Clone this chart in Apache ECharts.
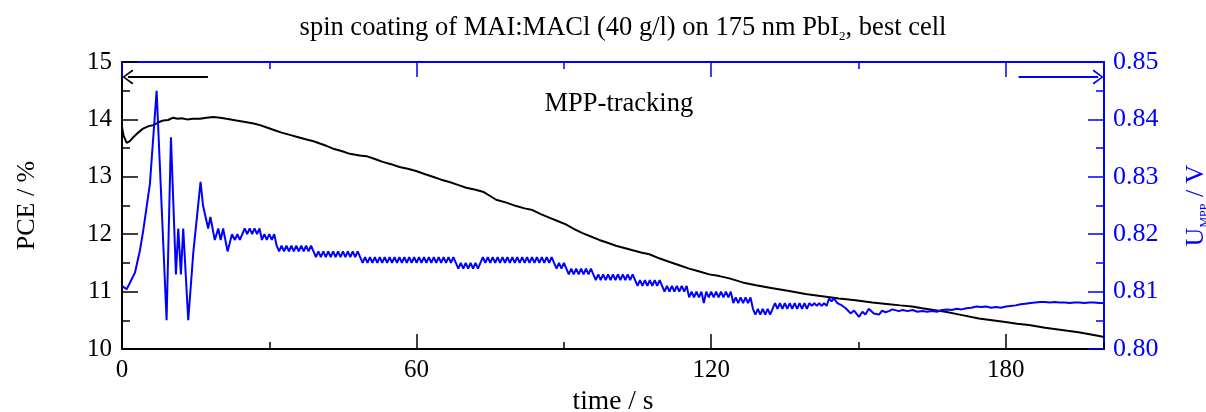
<!DOCTYPE html>
<html>
<head>
<meta charset="utf-8">
<script src="https://cdn.jsdelivr.net/npm/echarts@6/dist/echarts.min.js"></script>
<style>
html,body{margin:0;padding:0;background:#fff;}
#chart{width:1206px;height:412px;}
</style>
</head>
<body>
<div id="chart"></div>
<script>
// ---- data (time / s , value) ----
const pceSeries = [
[0,13.87],[0.3,13.72],[0.95,13.59],[1.6,13.62],[2.3,13.69],[3.3,13.77],[4.3,13.84],[5.3,13.88],[6.4,13.9],[7.4,13.95],
[8.4,13.98],[9.4,13.99],[10.4,14.03],[11.3,14.01],[12.2,14.02],[13.2,14.0],[14.5,14.01],[15.9,14.01],[17.2,14.03],[18.6,14.04],
[20.0,14.03],[21.3,14.01],[23.3,13.98],[25.4,13.95],[26.8,13.93],[28.1,13.9],[29.5,13.86],[30.8,13.82],[32.5,13.77],[34.2,13.73],
[35.9,13.69],[37.6,13.65],[39.0,13.62],[40.3,13.58],[41.6,13.54],[43.0,13.49],[44.7,13.45],[46.4,13.4],[48.4,13.37],[49.8,13.36],
[51.5,13.31],[53.1,13.26],[54.8,13.22],[56.5,13.17],[58.2,13.14],[59.9,13.1],[61.6,13.05],[63.3,13.0],[65.0,12.95],[66.7,12.91],
[68.4,12.86],[70.1,12.81],[71.8,12.78],[73.5,12.74],[74.9,12.67],[76.2,12.6],[78.3,12.55],[80.3,12.49],[82.0,12.45],[83.6,12.42],
[85.3,12.35],[87.0,12.29],[88.7,12.23],[90.4,12.17],[92.1,12.09],[93.8,12.02],[95.5,11.96],[97.2,11.9],[98.9,11.85],[100.6,11.8],
[102.3,11.76],[104.0,11.72],[105.7,11.68],[107.4,11.65],[109.4,11.58],[111.4,11.52],[113.5,11.46],[115.5,11.4],[117.6,11.35],[119.6,11.3],
[121.7,11.27],[123.7,11.23],[126.4,11.16],[129.1,11.11],[132.5,11.06],[135.9,11.01],[139.2,10.96],[142.6,10.92],[146.0,10.88],[149.4,10.85],
[152.8,10.81],[156.2,10.78],[158.5,10.76],[160.9,10.74],[163.0,10.71],[165.3,10.68],[167.7,10.65],[171.1,10.59],[174.5,10.53],[177.2,10.5],
[179.9,10.47],[182.3,10.44],[184.7,10.42],[188.0,10.37],[191.4,10.33],[194.8,10.29],[198.2,10.24],[200.0,10.21]
];

const umppSeries = [
[0,0.811],[0.95,0.8104],[2.64,0.8133],[3.66,0.8172],[4.34,0.8207],[5.69,0.8288],[7.05,0.845],[9.08,0.805],[9.97,0.8369],[10.98,0.813],
[11.46,0.821],[12.0,0.813],[12.47,0.821],[13.49,0.805],[14.5,0.8166],[16.0,0.8291],[16.5,0.825],[17.55,0.821],[18.0,0.823],[18.9,0.819],
[19.6,0.821],[20.1,0.819],[20.6,0.821],[21.5,0.817],[22.4,0.820],[23.0,0.819],[23.5,0.820],[24.0,0.819],[24.5,0.820],
[25,0.821],[25.5,0.820],[26,0.821],[26.5,0.820],[27,0.821],[27.5,0.820],[28,0.821],
[28.5,0.819],[29,0.820],[29.5,0.819],[30,0.820],[30.5,0.819],[31,0.820],[31.5,0.818],
[32,0.817],[32.5,0.818],[33,0.817],[33.5,0.818],[34,0.817],[34.5,0.818],[35,0.817],[35.5,0.818],[36,0.817],[36.5,0.818],
[37,0.817],[37.5,0.818],[38,0.817],[38.5,0.818],[39,0.817],
[39.5,0.816],[40,0.817],[40.5,0.816],[41,0.817],[41.5,0.816],[42,0.817],[42.5,0.816],[43,0.817],[43.5,0.816],[44,0.817],
[44.5,0.816],[45,0.817],[45.5,0.816],[46,0.817],[46.5,0.816],[47,0.817],[47.5,0.816],[48,0.817],
[48.5,0.816],[49,0.815],[49.5,0.816],[50,0.815],[50.5,0.816],[51,0.815],[51.5,0.816],[52,0.815],[52.5,0.816],[53,0.815],
[53.5,0.816],[54,0.815],[54.5,0.816],[55,0.815],[55.5,0.816],[56,0.815],[56.5,0.816],[57,0.815],[57.5,0.816],[58,0.815],
[58.5,0.816],[59,0.815],[59.5,0.816],[60,0.815],[60.5,0.816],[61,0.815],[61.5,0.816],[62,0.815],[62.5,0.816],[63,0.815],
[63.5,0.816],[64,0.815],[64.5,0.816],[65,0.815],[65.5,0.816],[66,0.815],[66.5,0.816],[67,0.815],[67.5,0.816],[68,0.815],
[68.5,0.814],[69,0.815],[69.5,0.814],[70,0.815],[70.5,0.814],[71,0.815],[71.5,0.814],[72,0.815],[72.5,0.814],[73,0.815],
[73.5,0.816],[74,0.815],[74.5,0.816],[75,0.815],[75.5,0.816],[76,0.815],[76.5,0.816],[77,0.815],[77.5,0.816],[78,0.815],
[78.5,0.816],[79,0.815],[79.5,0.816],[80,0.815],[80.5,0.816],[81,0.815],[81.5,0.816],[82,0.815],[82.5,0.816],[83,0.815],
[83.5,0.816],[84,0.815],[84.5,0.816],[85,0.815],[85.5,0.816],[86,0.815],[86.5,0.816],[87,0.815],[87.5,0.816],
[88,0.815],[88.5,0.814],[89,0.815],[89.5,0.814],[90,0.815],[90.5,0.814],
[91,0.813],[91.5,0.814],[92,0.813],[92.5,0.814],[93,0.813],[93.5,0.814],[94,0.813],[94.5,0.814],[95,0.813],[95.5,0.814],
[96,0.813],[96.5,0.812],[97,0.813],[97.5,0.812],[98,0.813],[98.5,0.812],[99,0.813],[99.5,0.812],[100,0.813],[100.5,0.812],
[101,0.813],[101.5,0.812],[102,0.813],[102.5,0.812],[103,0.813],[103.5,0.812],[104,0.813],[104.5,0.812],
[105,0.811],[105.5,0.812],[106,0.811],[106.5,0.812],[107,0.811],[107.5,0.812],[108,0.811],[108.5,0.812],[109,0.811],[109.5,0.812],[110,0.811],
[110.5,0.810],[111,0.811],[111.5,0.810],[112,0.811],[112.5,0.810],[113,0.811],[113.5,0.810],[114,0.811],[114.5,0.810],[115,0.811],
[115.5,0.809],[116,0.810],[116.5,0.809],[117,0.810],[117.5,0.809],[118,0.810],[118.5,0.808],[119,0.810],
[119.5,0.809],[120,0.810],[120.5,0.809],[121,0.810],[121.5,0.809],[122,0.810],[122.5,0.809],[123,0.810],[123.5,0.809],[124,0.810],
[124.5,0.808],[125,0.809],[125.5,0.808],[126,0.809],[126.5,0.808],[127,0.809],[127.5,0.808],[128,0.809],
[128.5,0.807],[129,0.806],[129.5,0.807],[130,0.806],[130.5,0.807],[131,0.806],[131.5,0.807],[132,0.806],
[132.5,0.807],[133,0.808],[133.5,0.807],[134,0.808],[134.5,0.807],[135,0.808],[135.5,0.807],[136,0.808],[136.5,0.807],[137,0.808],
[137.5,0.807],[138,0.808],[138.5,0.807],[139,0.808],[139.5,0.807],
[140,0.808],[140.5,0.8075],[141,0.808],[141.5,0.8075],[142,0.808],[142.5,0.8075],[143,0.808],[143.5,0.8075],
[144,0.8088],[144.5,0.8083],[145,0.8088],[145.7,0.808],[146.4,0.8077],[147.4,0.8071],[148.4,0.8062],[149.1,0.8067],[150.1,0.8056],[150.8,0.8065],
[151.4,0.806],[152.1,0.807],[153.1,0.8062],[154.2,0.806],[154.8,0.8067],[155.5,0.8064],[156.2,0.8066],[156.9,0.8069],[158.2,0.8066],
[159,0.8068],[160,0.8066],[161,0.8068],[162,0.8065],[163,0.8066],[164,0.8065],[165,0.8066],[166,0.8065],[167,0.8068],[168,0.8069],
[169,0.8068],[170,0.807],[171,0.8069],[172,0.8071],[173,0.8072],[174,0.8074],[175,0.8073],[176,0.8074],[177,0.8072],[178,0.8073],
[179,0.8072],[180,0.8074],[181,0.8075],[182,0.8076],[183,0.8078],[184,0.8079],[185,0.808],[186,0.8081],[187,0.8082],[188,0.8082],
[189,0.8081],[190,0.8082],[191,0.8081],[192,0.8081],[193,0.808],[194,0.8081],[195,0.8081],[196,0.808],[197,0.8081],[198,0.8081],
[199,0.808],[200,0.808]
];

const xTickMajor = 60, xTickMinor = 30;
const pceRange = [10, 15];
const uRange = [0.80, 0.85];
const timeRange = [0, 200];
const annotation = { text: 'MPP-tracking', at: [101.2, 14.27] };
const leftArrow = [[17.5, 14.74], [1.2, 14.74]];
const rightArrow = [[182.6, 0.8474], [198.8, 0.8474]];

const FONT = '"Liberation Serif", "Times New Roman", serif';
const BLUE = '#0000ff';
const BLACK = '#000000';
const chevron = 'path://M5,0 L10,9 L9,10 L5,2.2 L1,10 L0,9 Z';

const chart = echarts.init(document.getElementById('chart'), null, {renderer: 'canvas'});

function xAx(pos, interval, len, color, showLabel, showLine, extra) {
  return Object.assign({
    type: 'value', position: pos, min: timeRange[0], max: timeRange[1], interval: interval,
    axisLine: {show: showLine, onZero: false, lineStyle: {color: color, width: 2}},
    axisTick: {show: true, inside: true, length: len, lineStyle: {color: color, width: 1.5}},
    axisLabel: {show: showLabel, color: BLACK, fontFamily: FONT, fontSize: 25, margin: 9, showMaxLabel: false},
    splitLine: {show: false}
  }, extra || {});
}

chart.setOption({
  animation: false,
  backgroundColor: '#fff',
  title: {
    text: '{a|spin coating of MAI:MACl (40 g/l) on 175 nm PbI}{s|2}{a|, best cell}',
    left: 618, top: 8, textAlign: 'center',
    textStyle: {
      rich: {
        a: {fontFamily: FONT, fontSize: 26.5, fontWeight: 'normal', color: BLACK, lineHeight: 30},
        s: {fontFamily: FONT, fontSize: 13, fontWeight: 'normal', color: BLACK, lineHeight: 10, verticalAlign: 'bottom'}
      }
    }
  },
  grid: {left: 122, right: 102, top: 62, bottom: 63, containLabel: false, outerBoundsMode: 'none'},
  xAxis: [
    xAx('bottom', xTickMajor, 15, BLACK, true, true, {
      name: 'time / s', nameLocation: 'middle', nameGap: 38,
      nameTextStyle: {fontFamily: FONT, fontSize: 27.5, color: BLACK}
    }),
    xAx('bottom', xTickMinor, 7, BLACK, false, false),
    xAx('top', xTickMajor, 15, BLUE, false, true),
    xAx('top', xTickMinor, 7, BLUE, false, false)
  ],
  yAxis: [
    {
      type: 'value', position: 'left', min: pceRange[0], max: pceRange[1], interval: 1,
      axisLine: {show: true, onZero: false, lineStyle: {color: BLACK, width: 2}},
      axisTick: {show: true, inside: true, length: 16, lineStyle: {color: BLACK, width: 1.5}},
      minorTick: {show: true, splitNumber: 2, length: 8, lineStyle: {color: BLACK, width: 1.5}},
      axisLabel: {color: BLACK, fontFamily: FONT, fontSize: 25, margin: 10},
      splitLine: {show: false},
      name: 'PCE / %', nameLocation: 'middle', nameRotate: 90, nameGap: 82,
      nameTextStyle: {fontFamily: FONT, fontSize: 26, color: BLACK}
    },
    {
      type: 'value', position: 'right', min: uRange[0], max: uRange[1], interval: 0.01,
      axisLine: {show: true, onZero: false, lineStyle: {color: BLUE, width: 2}},
      axisTick: {show: true, inside: true, length: 16, lineStyle: {color: BLUE, width: 1.5}},
      minorTick: {show: true, splitNumber: 2, length: 8, lineStyle: {color: BLUE, width: 1.5}},
      axisLabel: {color: BLUE, fontFamily: FONT, fontSize: 26, margin: 9, formatter: v => v.toFixed(2)},
      splitLine: {show: false},
      name: '{u|U}{s|MPP}{u| / V}', nameLocation: 'middle', nameRotate: 90, nameGap: 77,
      nameTextStyle: {
        rich: {
          u: {fontFamily: FONT, fontSize: 26, color: BLUE, lineHeight: 30},
          s: {fontFamily: FONT, fontSize: 12, color: BLUE, lineHeight: 12, verticalAlign: 'bottom'}
        }
      }
    }
  ],
  series: [
    {
      type: 'line', name: 'PCE', xAxisIndex: 0, yAxisIndex: 0, data: pceSeries,
      showSymbol: false, symbol: 'none', lineStyle: {color: BLACK, width: 2}, z: 3,
      markPoint: {
        symbol: 'circle', symbolSize: 0, silent: true,
        label: {show: true, position: 'inside', color: BLACK, fontFamily: FONT, fontSize: 26.5, formatter: annotation.text},
        data: [{coord: annotation.at}]
      },
      markLine: {
        silent: true, symbol: ['none', chevron], symbolSize: [15, 11],
        label: {show: false},
        lineStyle: {color: BLACK, width: 2, type: 'solid'},
        data: [[{coord: leftArrow[0]}, {coord: leftArrow[1]}]]
      }
    },
    {
      type: 'line', name: 'U_MPP', xAxisIndex: 0, yAxisIndex: 1, data: umppSeries,
      showSymbol: false, symbol: 'none', lineStyle: {color: BLUE, width: 2}, z: 4,
      markLine: {
        silent: true, symbol: ['none', chevron], symbolSize: [15, 11],
        label: {show: false},
        lineStyle: {color: BLUE, width: 2, type: 'solid'},
        data: [[{coord: rightArrow[0]}, {coord: rightArrow[1]}]]
      }
    }
  ]
});
</script>
</body>
</html>
